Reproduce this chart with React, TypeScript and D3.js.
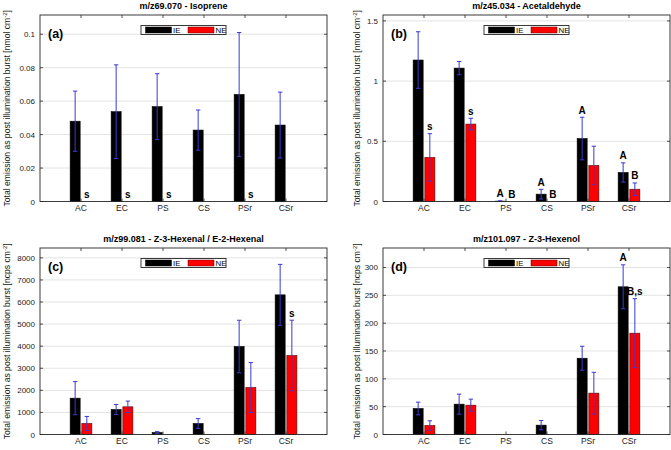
import React from "react";
import * as d3 from "d3";

const categories = ["AC", "EC", "PS", "CS", "PSr", "CSr"];
const seriesNames = ["IE", "NE"];

// (a) m/z69.070 - Isoprene
const aIE = [0.048, 0.0537, 0.0567, 0.0427, 0.064, 0.0457];
const aIEErr = [0.018, 0.028, 0.0197, 0.012, 0.037, 0.0197];
const aNE = [0, 0, 0, 0, 0, 0];
const aNEErr = [0, 0, 0, 0, 0, 0];
const aIELetters = ["", "", "", "", "", ""];
const aNELetters = ["s", "s", "s", "", "s", ""];
const aTicks = [0, 0.02, 0.04, 0.06, 0.08, 0.1];

// (b) m/z45.034 - Acetaldehyde
const bIE = [1.175, 1.108, 0.003, 0.061, 0.523, 0.241];
const bIEErr = [0.235, 0.055, 0.003, 0.04, 0.177, 0.08];
const bNE = [0.366, 0.643, 0, 0, 0.299, 0.102];
const bNEErr = [0.197, 0.048, 0, 0, 0.16, 0.052];
const bIELetters = ["", "", "A", "A", "A", "A"];
const bNELetters = ["s", "s", "B", "B", "", "B"];
const bTicks = [0, 0.5, 1, 1.5];

// (c) m/z99.081 - Z-3-Hexenal / E-2-Hexenal
const cIE = [1645, 1132, 90, 498, 3985, 6325];
const cIEErr = [750, 230, 40, 220, 1190, 1380];
const cNE = [498, 1253, 0, 0, 2128, 3577];
const cNEErr = [320, 260, 0, 0, 1130, 1600];
const cIELetters = ["", "", "", "", "", ""];
const cNELetters = ["", "", "", "", "", "s"];
const cTicks = [0, 1000, 2000, 3000, 4000, 5000, 6000, 7000, 8000];

// (d) m/z101.097 - Z-3-Hexenol
const dIE = [46.7, 54.5, 0, 16.8, 137, 265.3];
const dIEErr = [11.4, 18, 0, 8.4, 21.5, 39.5];
const dNE = [16.2, 52.7, 0, 0, 74.3, 182];
const dNEErr = [8.4, 10.8, 0, 0, 37.4, 62];
const dIELetters = ["", "", "", "", "", "A"];
const dNELetters = ["", "", "", "", "", "B,s"];
const dTicks = [0, 50, 100, 150, 200, 250, 300];

const FONT = "'Liberation Sans', Arial, Helvetica, sans-serif";

type PanelDef = {
  tag: string;
  title: string;
  unit: string;
  ymax: number;
  ticks: number[];
  ie: number[];
  ieErr: number[];
  ne: number[];
  neErr: number[];
  ieLetters: string[];
  neLetters: string[];
  left: number;
  right: number;
  top: number;
  bottom: number;
  labelX: number;
};

const panels: PanelDef[] = [
  { tag: "(a)", title: "m/z69.070 - Isoprene", unit: "nmol", ymax: 0.1115, ticks: aTicks, ie: aIE, ieErr: aIEErr, ne: aNE, neErr: aNEErr, ieLetters: aIELetters, neLetters: aNELetters, left: 40, right: 327, top: 15, bottom: 201.5, labelX: 10 },
  { tag: "(b)", title: "m/z45.034 - Acetaldehyde", unit: "nmol", ymax: 1.549, ticks: bTicks, ie: bIE, ieErr: bIEErr, ne: bNE, neErr: bNEErr, ieLetters: bIELetters, neLetters: bNELetters, left: 383, right: 670, top: 15, bottom: 201.5, labelX: 360 },
  { tag: "(c)", title: "m/z99.081 - Z-3-Hexenal / E-2-Hexenal", unit: "ncps", ymax: 8447, ticks: cTicks, ie: cIE, ieErr: cIEErr, ne: cNE, neErr: cNEErr, ieLetters: cIELetters, neLetters: cNELetters, left: 40, right: 327, top: 248, bottom: 434.5, labelX: 10 },
  { tag: "(d)", title: "m/z101.097 - Z-3-Hexenol", unit: "ncps", ymax: 335, ticks: dTicks, ie: dIE, ieErr: dIEErr, ne: dNE, neErr: dNEErr, ieLetters: dIELetters, neLetters: dNELetters, left: 383, right: 670, top: 248, bottom: 434.5, labelX: 360 },
];

const ERR = "#3a3ad0";

function Panel({ p }: { p: PanelDef }) {
  const x = d3.scaleLinear().domain([0, 7]).range([p.left, p.right]);
  const y = d3.scaleLinear().domain([0, p.ymax]).range([p.bottom, p.top]);
  const bw = x(0.244) - x(0);
  const off = 0.1427;
  const cx = (p.left + p.right) / 2;
  const cy = (p.top + p.bottom) / 2;
  const series = [
    { vals: p.ie, errs: p.ieErr, letters: p.ieLetters, fill: "#000", stroke: "#000", dx: -off },
    { vals: p.ne, errs: p.neErr, letters: p.neLetters, fill: "#f00", stroke: "#5a0000", dx: off },
  ];
  const legW = 85, legH = 9;
  const legX = cx - legW / 2, legY = p.top + 10.5;
  return (
    <g>
      {p.ticks.filter((t) => t > 0).map((t, i) => (
        <line key={"g" + i} x1={p.left} x2={p.right} y1={y(t)} y2={y(t)} stroke="#e3e3e3" strokeWidth={1} />
      ))}
      {series.map((s, si) =>
        s.vals.map((v, i) =>
          v > 0 ? (
            <rect key={"b" + si + "-" + i} x={x(i + 1 + s.dx) - bw / 2} y={y(v)} width={bw} height={y(0) - y(v)} fill={s.fill} stroke={s.stroke} strokeWidth={0.6} />
          ) : null
        )
      )}
      {series.map((s, si) =>
        s.vals.map((v, i) => {
          const e = s.errs[i];
          if (!(e > 0)) return null;
          const xc = x(i + 1 + s.dx);
          const y1 = y(v + e), y2 = y(Math.max(0, v - e));
          return (
            <g key={"e" + si + "-" + i} stroke={ERR} strokeWidth={1}>
              <line x1={xc} x2={xc} y1={y1} y2={y2} />
              <line x1={xc - 2.2} x2={xc + 2.2} y1={y1} y2={y1} />
              <line x1={xc - 2.2} x2={xc + 2.2} y1={y2} y2={y2} />
            </g>
          );
        })
      )}
      {series.map((s, si) =>
        s.letters.map((l, i) =>
          l ? (
            <text key={"l" + si + "-" + i} x={x(i + 1 + s.dx)} y={y(s.vals[i] + s.errs[i]) - 3.5} textAnchor="middle" fontSize={10} fontWeight="bold" fontFamily={FONT} fill="#000">
              {l}
            </text>
          ) : null
        )
      )}
      <rect x={p.left} y={p.top} width={p.right - p.left} height={p.bottom - p.top} fill="none" stroke="#262626" strokeWidth={0.9} />
      {p.ticks.map((t, i) => (
        <g key={"yt" + i}>
          <line x1={p.left} x2={p.left + 3} y1={y(t)} y2={y(t)} stroke="#262626" strokeWidth={0.8} />
          <line x1={p.right} x2={p.right - 3} y1={y(t)} y2={y(t)} stroke="#262626" strokeWidth={0.8} />
          <text x={p.left - 5} y={y(t) + 3} textAnchor="end" fontSize={8} fontFamily={FONT} fill="#1a1a1a">
            {String(t)}
          </text>
        </g>
      ))}
      {categories.map((c, i) => (
        <g key={"xt" + i}>
          <line x1={x(i + 1)} x2={x(i + 1)} y1={p.bottom} y2={p.bottom - 3} stroke="#262626" strokeWidth={0.8} />
          <line x1={x(i + 1)} x2={x(i + 1)} y1={p.top} y2={p.top + 3} stroke="#262626" strokeWidth={0.8} />
          <text x={x(i + 1)} y={p.bottom + 9} textAnchor="middle" fontSize={8.5} fontFamily={FONT} fill="#1a1a1a">
            {c}
          </text>
        </g>
      ))}
      <text x={cx} y={p.top - 6} textAnchor="middle" fontSize={9} fontWeight="bold" fontFamily={FONT} fill="#000">
        {p.title}
      </text>
      <text x={p.left + 8} y={p.top + 22.5} fontSize={12.5} fontWeight="bold" fontFamily={FONT} fill="#000">
        {p.tag}
      </text>
      <text transform={`translate(${p.labelX},${cy}) rotate(-90)`} textAnchor="middle" fontSize={8.6} fontFamily={FONT} fill="#1a1a1a">
        {`Total emission as post illumination burst [${p.unit} cm`}
        <tspan dy={-3.5} fontSize={6}>-2</tspan>
        <tspan dy={3.5}>]</tspan>
      </text>
      <rect x={legX} y={legY} width={legW} height={legH} fill="#fff" stroke="#262626" strokeWidth={0.9} />
      {seriesNames.map((n, i) => (
        <g key={"lg" + i}>
          <rect x={legX + 4.5 + i * 42.5} y={legY + 1.5} width={26} height={6} fill={series[i].fill} stroke={series[i].stroke} strokeWidth={0.5} />
          <text x={legX + 32 + i * 42.5} y={legY + 7.2} fontSize={7.8} fontFamily={FONT} fill="#000">
            {n}
          </text>
        </g>
      ))}
    </g>
  );
}

export default function App() {
  return (
    <svg width={671} height={450} style={{ position: "absolute", left: 0, top: 0, background: "#fff" }}>
      <rect x={0} y={0} width={671} height={450} fill="#fff" />
      {panels.map((p, i) => (
        <Panel key={i} p={p} />
      ))}
    </svg>
  );
}
